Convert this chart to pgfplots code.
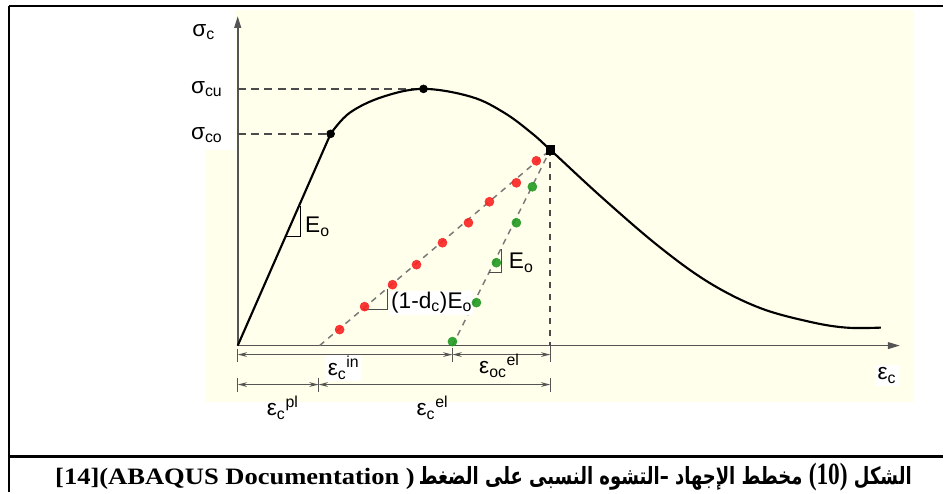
\documentclass[border=0pt]{standalone}
\usepackage{pgfplots}
\pgfplotsset{compat=1.18}
\usetikzlibrary{arrows.meta}
\usepackage{fontspec}
\setmainfont{Liberation Sans}
\newfontfamily\serifb{Liberation Serif}
\newfontfamily\arabicfont[Script=Arabic]{DejaVu Sans}
\TeXXeTstate=1
\definecolor{bgy}{RGB}{255,255,235}
\definecolor{axgrey}{RGB}{85,85,85}
\definecolor{dashgrey}{RGB}{75,75,75}
\definecolor{lgrey}{RGB}{120,120,120}
\definecolor{mred}{RGB}{250,35,35}
\definecolor{mgreen}{RGB}{35,155,35}
\newcommand\lab{\fontsize{17}{20}\selectfont}
\begin{document}
\begin{tikzpicture}
\begin{axis}[
  width=708pt, height=369.75pt, scale only axis,
  xmin=-238, xmax=706, ymin=-147, ymax=346,
  axis lines=none, clip=false,
]
% background panels
\fill[bgy] (axis cs:-33,336) rectangle (axis cs:677,-56);
\fill[white] (axis cs:-55,336) rectangle (axis cs:-3,196);
% frame
\draw[line width=1.3pt] (axis cs:-229,340) -- (axis cs:706,340);
\draw[line width=1.5pt] (axis cs:-229,340) -- (axis cs:-229,-147);
\draw[line width=1.7pt] (axis cs:-229,-111) -- (axis cs:706,-111);
% axes
\draw[axgrey, line width=1.5pt, -{Triangle[length=9pt,width=5pt]}] (axis cs:0,0) -- (axis cs:0,330);
\draw[axgrey, line width=1.2pt, -{Triangle[length=9pt,width=5pt]}] (axis cs:0,0) -- (axis cs:663,0);
% guide dashed lines
\addplot[dashgrey, line width=1.5pt, dash pattern=on 6pt off 4pt] coordinates {(0,257) (186,257)};
\addplot[dashgrey, line width=1.5pt, dash pattern=on 6pt off 4pt] coordinates {(0,212) (93,212)};
\addplot[dashgrey, line width=1.3pt, dash pattern=on 5pt off 4pt] coordinates {(313,196) (313,0)};
% unloading lines
\addplot[lgrey, line width=1.1pt, dash pattern=on 4.5pt off 4pt] coordinates {(82,0) (313,196)};
\addplot[lgrey, line width=1.1pt, dash pattern=on 4.5pt off 4pt] coordinates {(215,0) (313,196)};
% stress-strain curve
\addplot[black, line width=1.6pt] coordinates {(0,0) (93,212)};
\addplot[black, line width=1.6pt, smooth, tension=0.6] coordinates {
 (93,212) (112,233) (145,249) (186,257) (234,249) (267,233) (294,213) (313,196)
 (365,148) (422,99) (472,63) (522,38) (572,24) (609,18) (644,18)};
% markers
\addplot[only marks, mark=*, mark size=3.4pt, draw=mred, fill=mred, opacity=0.9] coordinates {
 (299,185) (279,163) (252,144) (231,123) (205,103) (179,81) (155,61) (127,39) (102,16)};
\addplot[only marks, mark=*, mark size=3.4pt, draw=mgreen, fill=mgreen, opacity=0.9] coordinates {
 (295,159) (279,123) (259,83) (239,43) (215,4)};
\addplot[only marks, mark=*, mark size=3pt, black] coordinates {(93,212) (186,257)};
\addplot[only marks, mark=square*, mark size=3.2pt, black] coordinates {(313,196)};
% slope triangles
\draw[black, line width=1pt] (axis cs:48,109) -- (axis cs:63,109) -- (axis cs:63,140);
\draw[dashgrey, line width=1pt] (axis cs:125,36) -- (axis cs:150,36) -- (axis cs:150,57);
\draw[dashgrey, line width=1pt] (axis cs:251.5,73) -- (axis cs:264,73) -- (axis cs:264,97);
% labels
\node at (axis cs:-34,314) {\lab σ\textsubscript{c}};
\node at (axis cs:-31,257) {\lab σ\textsubscript{cu}};
\node at (axis cs:-31,211) {\lab σ\textsubscript{co}};
\node[anchor=west, inner sep=1pt] at (axis cs:66,119) {\lab E\textsubscript{o}};
\node[anchor=west, inner sep=1pt, fill=white] at (axis cs:152,43) {\lab (1-d\textsubscript{c})E\textsubscript{o}};
\node[anchor=west, inner sep=1pt] at (axis cs:270,83) {\lab E\textsubscript{o}};
% dimension lines
\begin{scope}[axgrey, line width=1pt]
\draw[{Stealth[length=7pt,width=3.5pt]}-{Stealth[length=7pt,width=3.5pt]}] (axis cs:0,-9) -- (axis cs:215,-9);
\draw[{Stealth[length=7pt,width=3.5pt]}-{Stealth[length=7pt,width=3.5pt]}] (axis cs:215,-9) -- (axis cs:313,-9);
\draw[{Stealth[length=7pt,width=3.5pt]}-{Stealth[length=7pt,width=3.5pt]}] (axis cs:0,-39) -- (axis cs:81,-39);
\draw[{Stealth[length=7pt,width=3.5pt]}-{Stealth[length=7pt,width=3.5pt]}] (axis cs:81,-39) -- (axis cs:313,-39);
\draw (axis cs:0,-3) -- (axis cs:0,-16);
\draw (axis cs:215,-2) -- (axis cs:215,-16);
\draw (axis cs:313,0) -- (axis cs:313,-16);
\draw (axis cs:0,-32) -- (axis cs:0,-46);
\draw (axis cs:81,-32) -- (axis cs:81,-46);
\draw (axis cs:313,-32) -- (axis cs:313,-46);
\end{scope}
\node[fill=white, inner sep=1pt] at (axis cs:106,-22) {\lab ε\textsubscript{c}\textsuperscript{in}};
\node[inner sep=1pt] at (axis cs:262,-20) {\lab ε\textsubscript{oc}\textsuperscript{el}};
\node[inner sep=1pt] at (axis cs:45,-62) {\lab ε\textsubscript{c}\textsuperscript{pl}};
\node[inner sep=1pt] at (axis cs:195,-62) {\lab ε\textsubscript{c}\textsuperscript{el}};
\node[fill=white, inner sep=2pt] at (axis cs:650,-30) {\lab ε\textsubscript{c}};
% caption
\node[anchor=base west, inner sep=0pt] at (axis cs:-183,-139) {\resizebox*{270pt}{16pt}{\serifb\bfseries [14](ABAQUS Documentation )}};
\node[anchor=base east, inner sep=0pt] at (axis cs:675,-139) {\resizebox*{370pt}{21pt}{\arabicfont\bfseries\beginR الشكل \beginL{\serifb\bfseries\fontsize{13}{13}\selectfont(10)}\endL{} مخطط الإجهاد –التشوه النسبى على الضغط\endR}};
\path (axis cs:-238,-147) rectangle (axis cs:706,346);
\end{axis}
\end{tikzpicture}
\end{document}
